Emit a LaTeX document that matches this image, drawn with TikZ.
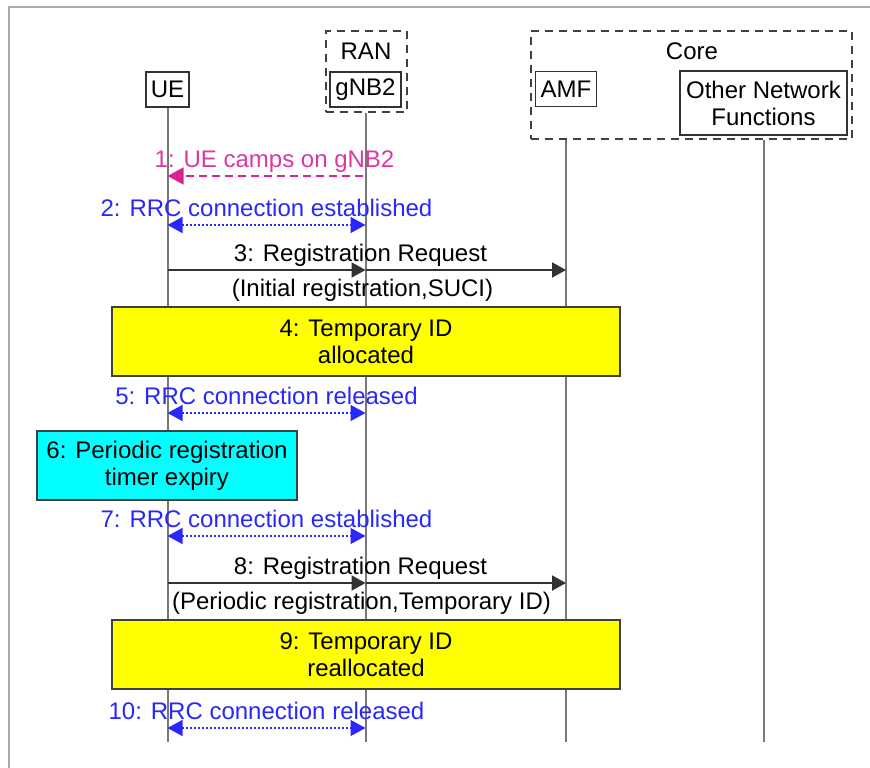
\documentclass[tikz,border=0pt]{standalone}
\usepackage{fontspec}
\setmainfont{Liberation Sans}
\usetikzlibrary{arrows.meta}
\definecolor{rrcblue}{RGB}{40,40,250}
\definecolor{campmag}{RGB}{215,35,150}
\definecolor{linegray}{RGB}{120,120,120}
\definecolor{framegray}{RGB}{170,170,170}
\definecolor{actyellow}{RGB}{255,255,0}
\definecolor{actcyan}{RGB}{0,255,255}
\tikzset{
  entity/.style={draw=black!80,line width=1.5pt,inner sep=0pt,minimum height=35pt,align=center},
  group/.style={draw=black!75,line width=2pt,dash pattern=on 8pt off 6pt,inner sep=0pt},
  life/.style={draw=linegray,line width=2pt},
  action/.style={draw=black!75,line width=1.5pt,minimum height=69pt,inner sep=0pt,align=center},
  lbl/.style={text height=17pt,text depth=5pt,inner sep=2.5pt},
  msg/.style={draw=black!80,line width=2pt,-{Triangle[length=14pt,width=15pt]}},
  rrc/.style={rrcblue,line width=1.5pt,dash pattern=on 2pt off 2pt,
    arrows={Triangle[length=15pt,width=16pt]-Triangle[length=15pt,width=16pt]}},
  camp/.style={campmag,line width=1.5pt,dash pattern=on 8pt off 5pt,-{Triangle[length=16pt,width=17pt]}}
}
\begin{document}
\begin{tikzpicture}[x=1pt,y=-1pt,font=\fontsize{24}{27}\selectfont]
\useasboundingbox (0,0) rectangle (870,768);
\draw[framegray,line width=2pt] (8.5,768) -- (8.5,7.5) -- (870,7.5);
% groups and entities
\node[group,minimum width=81pt,minimum height=81pt] (ran) at (366.5,71.5) {};
\node[group,minimum width=321pt,minimum height=108pt] (core) at (691.5,85) {};
\node (ranlbl) at (366,51) {RAN};
\node (corelbl) at (692,51) {Core};
\node[entity,minimum width=43pt] (ue) at (167.5,89.5) {UE};
\node[entity,minimum width=71pt] (gnb) at (365.5,89.5) {gNB2};
\node[entity,minimum width=61pt] (amf) at (566,89) {AMF};
\node[entity,minimum width=167pt,minimum height=64pt] (onf) at (763.5,103) {Other Network\\Functions};
% lifelines
\coordinate (bottom) at (0,742);
\draw[life] (ue.south) -- (ue |- bottom);
\draw[life] (ran.south -| gnb) -- (gnb |- bottom);
\draw[life] (core.south -| amf) -- (amf |- bottom);
\draw[life] (core.south -| onf) -- (onf |- bottom);
% message rows
\coordinate (m1) at (0,176);
\coordinate (m2) at (0,225);
\coordinate (m3) at (0,270);
\coordinate (m5) at (0,413);
\coordinate (m7) at (0,536);
\coordinate (m8) at (0,583);
\coordinate (m10) at (0,728);
\draw[camp,shorten <=3pt] (gnb |- m1) -- (ue |- m1)
  node[lbl,midway,above,xshift=8pt,text=campmag!90] {1: UE camps on gNB2};
\draw[rrc] (ue |- m2) -- (gnb |- m2) node[lbl,midway,above] {2: RRC connection established};
\draw[msg] (ue |- m3) -- (gnb |- m3)
  node[lbl,pos=1,above,xshift=-5pt] {3: Registration Request}
  node[lbl,pos=1,below=6pt,xshift=-3pt] {(Initial registration,SUCI)};
\draw[msg] (gnb |- m3) -- (amf |- m3);
\node[action,fill=actyellow,minimum width=508pt] (alloc) at (366,341.5) {4: Temporary ID\\allocated};
\draw[rrc] (ue |- m5) -- (gnb |- m5) node[lbl,midway,above] {5: RRC connection released};
\node[action,fill=actcyan,minimum width=260pt] (timer) at (167,465.5) {6: Periodic registration\\timer expiry};
\draw[rrc] (ue |- m7) -- (gnb |- m7) node[lbl,midway,above] {7: RRC connection established};
\draw[msg] (ue |- m8) -- (gnb |- m8)
  node[lbl,pos=1,above,xshift=-5pt] {8: Registration Request}
  node[lbl,pos=1,below=6pt,xshift=-4pt] {(Periodic registration,Temporary ID)};
\draw[msg] (gnb |- m8) -- (amf |- m8);
\node[action,fill=actyellow,minimum width=508pt] (realloc) at (366,654.5) {9: Temporary ID\\reallocated};
\draw[rrc] (ue |- m10) -- (gnb |- m10) node[lbl,midway,above] {10: RRC connection released};
\end{tikzpicture}
\end{document}
